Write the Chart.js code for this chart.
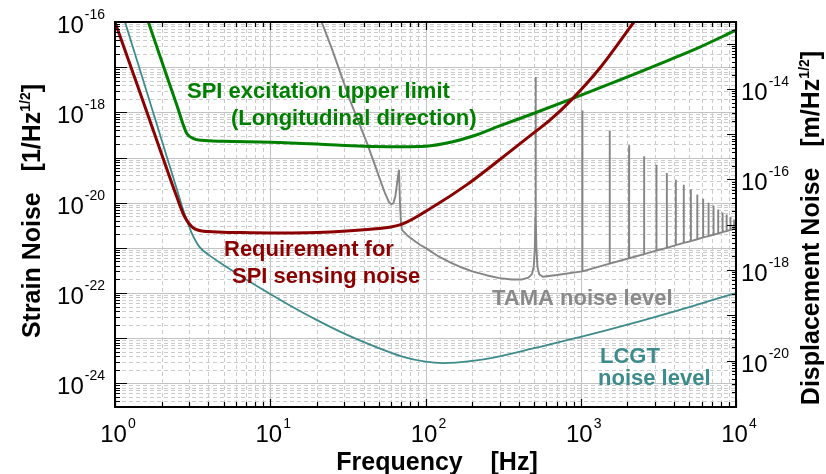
<!DOCTYPE html>
<html>
<head>
<meta charset="utf-8">
<script src="https://cdn.jsdelivr.net/npm/chart.js@4.4.0/dist/chart.umd.min.js"></script>
<style>
  body { margin: 0; background: #fff; }
  #wrap { width: 826px; height: 474px; }
</style>
</head>
<body>
<div id="wrap"><canvas id="noiseChart"></canvas></div>
<script>
// frequency [Hz] / strain noise [1/rtHz]
const reqFreq = [1, 1.5, 2, 2.5, 2.8, 3.2, 4, 6, 10, 20, 40, 70, 112, 185, 300, 500, 630, 890, 1320, 2200];
const reqNoise = [1e-16, 1.95e-18, 1.17e-19, 1.35e-20, 5.0e-21, 2.75e-21, 2.29e-21, 2.19e-21, 2.14e-21, 2.19e-21,
  2.51e-21, 3.31e-21, 8.13e-21, 2.51e-20, 8.91e-20, 3.55e-19, 6.61e-19, 2.04e-18, 9.33e-18, 1e-16];

const spiFreq = [1.64, 2, 2.5, 2.9, 3.2, 3.6, 5, 10, 20, 40, 70, 100, 150, 200, 300, 500, 850, 2200, 3600, 5900, 10000];
const spiNoise = [1e-16, 1.35e-17, 1.45e-18, 3.39e-19, 2.63e-19, 2.40e-19, 2.29e-19, 2.19e-19, 2.0e-19, 1.78e-19,
  1.74e-19, 1.78e-19, 2.24e-19, 2.95e-19, 5.0e-19, 9.55e-19, 1.91e-18, 6.92e-18, 1.38e-17, 2.82e-17, 6.61e-17];

const lcgtFreq = [1.16, 1.5, 2, 2.5, 2.8, 3.1, 3.5, 4, 5, 7, 10, 15, 20, 30, 50, 70, 100, 130, 200, 300, 500, 1000, 2000, 5000, 10000];
const lcgtNoise = [1e-16, 5.89e-18, 2.40e-19, 2.0e-20, 5.75e-21, 2.24e-21, 1.05e-21, 7.08e-22, 4.17e-22, 2.0e-22,
  9.55e-23, 4.27e-23, 2.51e-23, 1.26e-23, 6.03e-24, 3.98e-24, 3.02e-24, 2.82e-24, 3.16e-24, 3.98e-24,
  6.03e-24, 1.07e-23, 2.0e-23, 4.9e-23, 1e-22];

// TAMA: floor, the 67 Hz and 512 Hz lines, then violin-mode harmonics (base, top, base)
const tamaFreq = [20, 25, 32.7, 42, 53, 55, 58, 60, 62, 64, 66, 67.5, 68.5, 69.5, 70.5, 76, 83, 92, 100, 120, 144, 170,
  200, 250, 300, 360, 420, 460, 485, 498, 506, 510, 512, 514, 518, 526, 540, 570, 700,
  1021, 1024, 1027, 1533, 1536, 1539, 2045, 2048, 2051, 2557, 2560, 2563,
  3069, 3072, 3075, 3581, 3584, 3587, 4093, 4096, 4099, 4605, 4608, 4611,
  5117, 5120, 5123, 5629, 5632, 5635, 6141, 6144, 6147, 6653, 6656, 6659,
  7165, 7168, 7171, 7677, 7680, 7683, 8189, 8192, 8195, 8701, 8704, 8707,
  9213, 9216, 9219, 9725, 9728, 9731, 10000];
const tamaNoise = [1.86e-16, 2.51e-17, 1.82e-18, 2.09e-19, 2.24e-20, 1.58e-20, 1.05e-20, 9.33e-21, 9.55e-21, 1.41e-20,
  3.16e-20, 5.37e-20, 1.0e-20, 3.55e-21, 2.51e-21, 1.91e-21, 1.51e-21, 1.17e-21, 1.0e-21, 6.61e-22, 4.79e-22, 3.72e-22,
  3.02e-22, 2.45e-22, 2.14e-22, 2.0e-22, 2.0e-22, 2.19e-22, 2.63e-22, 3.8e-22, 1.0e-21, 5.0e-21, 6.03e-18, 5.0e-21,
  1.0e-21, 3.8e-22, 2.6e-22, 2.29e-22, 2.51e-22,
  3.02e-22, 1.10e-18, 3.02e-22, 4.47e-22, 3.98e-19, 4.47e-22, 5.89e-22, 1.86e-19, 5.89e-22, 7.24e-22, 1.07e-19, 7.24e-22,
  8.71e-22, 6.92e-20, 8.71e-22, 1.0e-21, 4.57e-20, 1.0e-21, 1.15e-21, 3.24e-20, 1.15e-21, 1.29e-21, 2.51e-20, 1.29e-21,
  1.41e-21, 1.95e-20, 1.41e-21, 1.55e-21, 1.51e-20, 1.55e-21, 1.70e-21, 1.23e-20, 1.70e-21, 1.82e-21, 1.0e-20, 1.82e-21,
  1.95e-21, 8.51e-21, 1.95e-21, 2.09e-21, 7.08e-21, 2.09e-21, 2.24e-21, 6.03e-21, 2.24e-21, 2.34e-21, 5.5e-21, 2.34e-21,
  2.51e-21, 4.9e-21, 2.51e-21, 2.63e-21, 4.27e-21, 2.63e-21, 2.69e-21];

// axis ranges and labelled exponents
const freqMin = 1, freqMax = 1e4;
const strainMin = 3.16e-25, strainMax = 1e-16;
const armLength = 3000; // displacement = strain * L
const xTickExps = [0, 1, 2, 3, 4];
const yTickExps = [-16, -18, -20, -22, -24];
const y2TickExps = [-14, -16, -18, -20];

const FONT = '"Liberation Sans", Arial, sans-serif';

function pts(fs, vs) {
  return fs.map((f, i) => ({ x: f, y: vs[i] }));
}

function drawPower(ctx, exp, x, y, align) {
  ctx.font = '24px ' + FONT;
  const wBase = ctx.measureText('10').width;
  ctx.font = '14px ' + FONT;
  const wExp = ctx.measureText(String(exp)).width;
  const total = wBase + 1 + wExp;
  let left = x;
  if (align === 'right') left = x - total;
  if (align === 'center') left = x - total / 2;
  ctx.font = '24px ' + FONT;
  ctx.fillText('10', left, y);
  ctx.font = '14px ' + FONT;
  ctx.fillText(String(exp), left + wBase + 1, y - 14);
}

// text with a "1/2" superscript, centred on (cx, cy), optionally rotated
function drawTitle(ctx, before, sup, after, cx, cy, rot, size) {
  ctx.save();
  ctx.translate(cx, cy);
  if (rot) ctx.rotate(-Math.PI / 2);
  const big = 'bold ' + size + 'px ' + FONT;
  const small = 'bold ' + Math.round(size * 0.58) + 'px ' + FONT;
  ctx.font = big;
  const w1 = ctx.measureText(before).width;
  const w3 = ctx.measureText(after).width;
  ctx.font = small;
  const w2 = sup ? ctx.measureText(sup).width : 0;
  let x0 = -(w1 + w2 + w3) / 2;
  const base = size * 0.36;
  ctx.font = big;
  ctx.fillText(before, x0, base);
  if (sup) {
    ctx.font = small;
    ctx.fillText(sup, x0 + w1, base - size * 0.42);
  }
  ctx.font = big;
  ctx.fillText(after, x0 + w1 + w2, base);
  ctx.restore();
}

const framePlugin = {
  id: 'framePlugin',
  beforeDatasetsDraw(chart) {
    const { ctx, chartArea: a, scales } = chart;
    const x = scales.x, y = scales.y;
    ctx.save();
    ctx.beginPath();
    ctx.rect(a.left, a.top, a.right - a.left, a.bottom - a.top);
    ctx.clip();
    ctx.lineWidth = 1;
    for (let k = 0; k < 4; k++) {
      for (let m = 1; m < 10; m++) {
        const px = Math.round(x.getPixelForValue(m * Math.pow(10, k))) + 0.5;
        ctx.setLineDash(m === 1 ? [] : [4, 3]);
        ctx.strokeStyle = m === 1 ? '#c2c2c2' : '#cccccc';
        ctx.beginPath(); ctx.moveTo(px, a.top); ctx.lineTo(px, a.bottom); ctx.stroke();
      }
    }
    for (let k = -25; k < -16; k++) {
      for (let m = 1; m < 10; m++) {
        const v = m * Math.pow(10, k);
        if (v < strainMin || v > strainMax) continue;
        const py = Math.round(y.getPixelForValue(v)) + 0.5;
        ctx.setLineDash(m === 1 ? [] : [4, 3]);
        ctx.strokeStyle = m === 1 ? '#c2c2c2' : '#cccccc';
        ctx.beginPath(); ctx.moveTo(a.left, py); ctx.lineTo(a.right, py); ctx.stroke();
      }
    }
    ctx.restore();
  },
  afterDatasetsDraw(chart) {
    const { ctx, chartArea: a, scales } = chart;
    const x = scales.x, y = scales.y, y2 = scales.y2;
    ctx.save();
    ctx.setLineDash([]);
    ctx.strokeStyle = '#000';
    ctx.fillStyle = '#000';

    // inward ticks
    ctx.lineWidth = 1.2;
    ctx.beginPath();
    for (let k = 0; k <= 4; k++) {
      for (let m = 1; m < 10; m++) {
        if (k === 4 && m > 1) break;
        const px = Math.round(x.getPixelForValue(m * Math.pow(10, k))) + 0.5;
        const len = m === 1 ? 8 : 5;
        ctx.moveTo(px, a.top); ctx.lineTo(px, a.top + len);
        ctx.moveTo(px, a.bottom); ctx.lineTo(px, a.bottom - len);
      }
    }
    for (let k = -25; k <= -16; k++) {
      for (let m = 1; m < 10; m++) {
        const v = m * Math.pow(10, k);
        if (v < strainMin || v > strainMax) continue;
        const py = Math.round(y.getPixelForValue(v)) + 0.5;
        const len = m === 1 ? 12 : 5;
        ctx.moveTo(a.left, py); ctx.lineTo(a.left + len, py);
      }
    }
    for (let k = -22; k <= -13; k++) {
      for (let m = 1; m < 10; m++) {
        const v = m * Math.pow(10, k);
        if (v < y2.min || v > y2.max) continue;
        const py = Math.round(y2.getPixelForValue(v)) + 0.5;
        const len = m === 1 ? 9 : 4;
        ctx.moveTo(a.right, py); ctx.lineTo(a.right - len, py);
      }
    }
    ctx.stroke();

    // frame
    ctx.lineWidth = 2;
    ctx.strokeRect(a.left, a.top, a.right - a.left, a.bottom - a.top);

    // tick labels
    ctx.textBaseline = 'alphabetic';
    ctx.textAlign = 'left';
    xTickExps.forEach(e => drawPower(ctx, e, x.getPixelForValue(Math.pow(10, e)) + 3, a.bottom + 35, 'center'));
    yTickExps.forEach(e => drawPower(ctx, e, a.left - 10, y.getPixelForValue(Math.pow(10, e)) + 11, 'right'));
    y2TickExps.forEach(e => drawPower(ctx, e, a.right + 5, y2.getPixelForValue(Math.pow(10, e)) + 11, 'left'));

    // axis titles
    drawTitle(ctx, 'Frequency    [Hz]', '', '', 437, 461, false, 25);
    drawTitle(ctx, 'Strain Noise   [1/Hz', '1/2', ']', 31, 211, true, 25);
    drawTitle(ctx, 'Displacement Noise   [m/Hz', '1/2', ']', 810, 228, true, 25);

    // curve labels
    ctx.font = 'bold 22px ' + FONT;
    ctx.fillStyle = '#008000';
    ctx.fillText('SPI excitation upper limit', 187, 98);
    ctx.fillText('(Longitudinal direction)', 231, 125);
    ctx.fillStyle = '#8b0000';
    ctx.fillText('Requirement for', 224, 256);
    ctx.fillText('SPI sensing noise', 232, 283);
    ctx.fillStyle = '#8a8a8a';
    ctx.fillText('TAMA noise level', 492, 305);
    ctx.fillStyle = '#3d8b8b';
    ctx.fillText('LCGT', 600, 363);
    ctx.fillText('noise level', 598, 385);
    ctx.restore();
  }
};

const ctx = document.getElementById('noiseChart').getContext('2d');
const chart = new Chart(ctx, {
  type: 'line',
  data: {
    datasets: [
      { label: 'Requirement for SPI sensing noise', data: pts(reqFreq, reqNoise), borderColor: '#8b0000', borderWidth: 3, cubicInterpolationMode: 'monotone' },
      { label: 'SPI excitation upper limit', data: pts(spiFreq, spiNoise), borderColor: '#008000', borderWidth: 3, cubicInterpolationMode: 'monotone' },
      { label: 'LCGT noise level', data: pts(lcgtFreq, lcgtNoise), borderColor: '#3d8b8b', borderWidth: 1.8, cubicInterpolationMode: 'monotone' },
      { label: 'TAMA noise level', data: pts(tamaFreq, tamaNoise), borderColor: '#858585', borderWidth: 1.9, tension: 0 },
    ],
  },
  options: {
    responsive: true,
    maintainAspectRatio: false,
    animation: false,
    layout: { padding: { left: 115, right: 90, top: 22, bottom: 67 } },
    elements: { point: { radius: 0 }, line: { borderJoinStyle: 'bevel' } },
    plugins: { legend: { display: false }, tooltip: { enabled: false } },
    scales: {
      x: { type: 'logarithmic', min: freqMin, max: freqMax, display: false },
      y: { type: 'logarithmic', min: strainMin, max: strainMax, display: false },
      y2: { type: 'logarithmic', position: 'right', min: strainMin * armLength, max: strainMax * armLength, display: false },
    },
  },
  plugins: [framePlugin],
});
</script>
</body>
</html>
